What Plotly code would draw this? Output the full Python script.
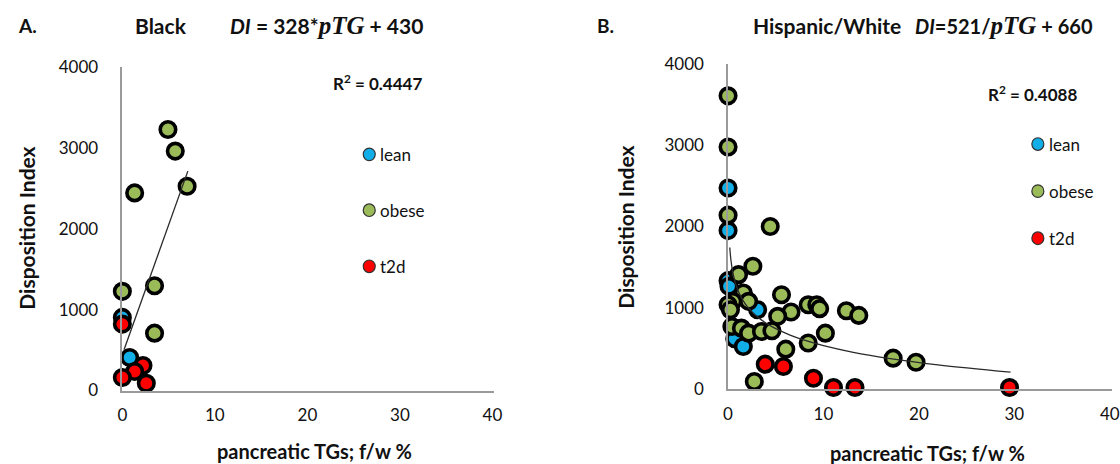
import plotly.graph_objects as go

# page size of the figure (slightly taller than the window; see calibration below)
W, H = 1120, 476

# ---------------- data: panel A (Black) ----------------
a_lean_x = [0.0, 0.79]
a_lean_y = [905, 409]
a_obese_x = [4.93, 5.72, 1.33, 7.0, 0.0, 3.48, 3.48]
a_obese_y = [3230, 2962, 2445, 2528, 1227, 1297, 710]
a_t2d_x = [0.0, 2.23, 1.33, 0.0, 2.59]
a_t2d_y = [822, 310, 236, 161, 90]
a_trend_x = [0.18, 7.08]
a_trend_y = [504, 2714]

# ---------------- data: panel B (Hispanic/White) ----------------
b_lean_x = [0.0, 0.0, 0.0, 0.1, 3.1, 0.7, 1.6]
b_lean_y = [2475, 1950, 1333, 1263, 975, 617, 522]
b_obese_x = [0.0, 0.0, 0.0, 4.42, 2.6, 1.1, 1.6, 5.6, 0.5, 2.15, 0.0, 0.25,
             6.6, 5.2, 8.4, 9.3, 9.6, 12.4, 13.7, 10.2, 0.4, 1.4, 2.15, 3.5, 4.6,
             6.05, 8.4, 17.3, 19.7, 2.75]
b_obese_y = [3610, 2980, 2140, 2000, 1510, 1407, 1180, 1160, 1078, 1078, 1037, 975,
             946, 893, 1037, 1037, 988, 963, 905, 686, 769, 748, 686, 707, 716,
             489, 565, 378, 328, 90]
b_t2d_x = [3.9, 5.8, 8.95, 11.05, 13.3, 29.5]
b_t2d_y = [304, 275, 131, 16, 16, 16]
b_trend_x = [0.18, 0.3, 0.5, 0.75, 1, 1.5, 2, 3, 4, 5, 6.5, 8, 10, 13, 17, 22, 29.6]
b_trend_y = [1741, 1587, 1434, 1312, 1225, 1103, 1016, 894, 808, 741, 662, 599, 532,
             453, 372, 295, 205]

x_ticks = [0, 10, 20, 30, 40]
y_ticks = [0, 1000, 2000, 3000, 4000]
groups = ["lean", "obese", "t2d"]
colors = {"lean": "#12AEE8", "obese": "#9BBB59", "t2d": "#FF0000"}

FONT = "Lato, 'Open Sans', sans-serif"
TXT = "#111111"


# target picture pixel -> page pixel (empirical calibration of the capture)
def X(p):
    return p / 0.99 - 3.5


def Y(p):
    return p / 0.954 - 10.7


def fx(p):
    return X(p) / W


def fy(p):
    return 1 - Y(p) / H


fig = go.Figure()


def add_group(xs, ys, name, xa, ya):
    fig.add_trace(go.Scatter(
        x=xs, y=ys, mode="markers", name=name, showlegend=False,
        xaxis=xa, yaxis=ya, cliponaxis=False,
        marker=dict(size=15.5, color=colors[name], line=dict(color="#000000", width=3.6)),
    ))


add_group(a_lean_x, a_lean_y, "lean", "x", "y")
add_group(a_obese_x, a_obese_y, "obese", "x", "y")
add_group(a_t2d_x, a_t2d_y, "t2d", "x", "y")
fig.add_trace(go.Scatter(x=a_trend_x, y=a_trend_y, mode="lines", showlegend=False,
                         xaxis="x", yaxis="y", line=dict(color="#2a2a2a", width=1.3)))

add_group(b_lean_x, b_lean_y, "lean", "x2", "y2")
add_group(b_obese_x, b_obese_y, "obese", "x2", "y2")
add_group(b_t2d_x, b_t2d_y, "t2d", "x2", "y2")
fig.add_trace(go.Scatter(x=b_trend_x, y=b_trend_y, mode="lines", showlegend=False,
                         xaxis="x2", yaxis="y2",
                         line=dict(color="#2a2a2a", width=1.3, shape="spline")))

axis_common = dict(
    showgrid=False, zeroline=False, showline=True, linecolor="#9a9a9a", linewidth=1.5,
    ticks="", tickfont=dict(family=FONT, size=17, color=TXT),
)

# panel A: x 0 at 121, 40 at 491.7, line to 493.7; y 0 at 389, 4000 at 66.3
kA = (X(491.7) - X(121)) / 40
a_xmax = (X(493.7) - X(121)) / kA
# panel B: x 0 at 727.7, 40 at 1110, line to the right edge; y 0 at 387.3, 4000 at 63.3
kB = (X(1110) - X(727.7)) / 40
b_xmax = (W - X(727.7)) / kB

fig.update_layout(
    xaxis=dict(domain=[fx(121), fx(493.7)], range=[0, a_xmax],
               tickvals=x_ticks, anchor="y", ticklabelstandoff=8, **axis_common),
    yaxis=dict(domain=[fy(389), fy(66.3)], range=[0, 4000], tickvals=y_ticks,
               anchor="x", ticklabelstandoff=19, **axis_common),
    xaxis2=dict(domain=[fx(727.7), 1.0], range=[0, b_xmax],
                tickvals=x_ticks, anchor="y2", ticklabelstandoff=9, **axis_common),
    yaxis2=dict(domain=[fy(387.3), fy(63.3)], range=[0, 4000], tickvals=y_ticks,
                anchor="x2", ticklabelstandoff=19, **axis_common),
)

anns = []


def ann(text, x, y, size, bold=True, angle=0, xanchor="center"):
    anns.append(dict(text=f"<b>{text}</b>" if bold else text, x=fx(x), y=fy(y),
                     xref="paper", yref="paper", showarrow=False, textangle=angle,
                     xanchor=xanchor, yanchor="middle",
                     font=dict(family=FONT, size=size, color=TXT)))


SER = "font-family:'Liberation Serif','DejaVu Serif',serif;font-size:25px"
ann("A.", 26, 25, 19)
ann("Black", 160, 25, 21)
ann(f"<i>DI</i> = 328*<span style=\"{SER}\"><i>pTG</i></span> + 430", 325, 25, 21)
ann("R<sup>2</sup> = 0.4447", 377, 82, 17)
ann("pancreatic TGs; f/w %", 313, 449, 20)
ann("Disposition Index", 25, 227, 21, angle=-90)

ann("B.", 605, 25, 19)
ann("Hispanic/White", 827, 25, 21)
ann(f"<i>DI</i>=521/<span style=\"{SER}\"><i>pTG</i></span> + 660", 1004, 25, 20)
ann("R<sup>2</sup> = 0.4088", 1033, 93, 17)
ann("pancreatic TGs; f/w %", 927, 451, 20)
ann("Disposition Index", 625, 226, 21, angle=-90)

shapes = []
legA = [(368.3, 153.3), (368.3, 209.0), (368.3, 265.0)]
legB = [(1038.0, 143.0), (1038.0, 190.0), (1038.0, 237.0)]
for leg in (legA, legB):
    for g, (cx, cy) in zip(groups, leg):
        shapes.append(dict(type="circle", xref="paper", yref="paper",
                           xsizemode="pixel", ysizemode="pixel",
                           xanchor=fx(cx), yanchor=fy(cy), x0=-6, x1=6, y0=-6.3, y1=6.3,
                           fillcolor=colors[g], line=dict(color="#333333", width=1.2)))
        ann(g, cx + 9, cy, 17, bold=False, xanchor="left")

fig.update_layout(
    width=W, height=H, margin=dict(l=0, r=0, t=0, b=0),
    paper_bgcolor="white", plot_bgcolor="white",
    showlegend=False, annotations=anns, shapes=shapes,
    font=dict(family=FONT, color=TXT),
)

fig.write_html(
    "out.html",
    config={"displayModeBar": False},
    post_script="document.body.style.margin='0';document.body.style.overflow='hidden';",
)
